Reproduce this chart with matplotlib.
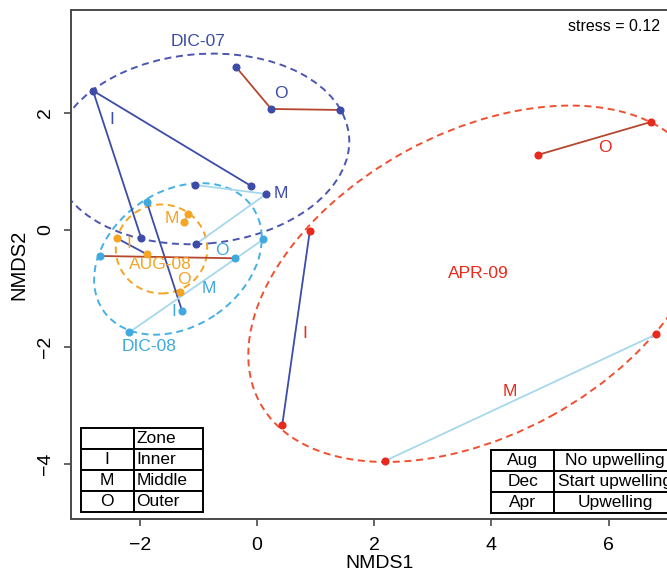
import matplotlib
matplotlib.use("Agg")
import matplotlib.pyplot as plt
from matplotlib.patches import Ellipse, Rectangle

plt.rcParams['font.family'] = ['Liberation Sans', 'DejaVu Sans']

# sample scores (NMDS1, NMDS2) per sampling and zone
dic07_I_x = [-0.10, -2.80, -1.976]
dic07_I_y = [0.745, 2.376, -0.147]
dic07_M_x = [-1.055, 0.157, -1.04]
dic07_M_y = [0.764, 0.61, -0.244]
dic07_O_x = [-0.355, 0.242, 1.408]
dic07_O_y = [2.776, 2.063, 2.046]

dic08_I_x = [-1.88, -1.28]
dic08_I_y = [0.468, -1.385]
dic08_M_x = [-2.18, 0.11]
dic08_M_y = [-1.754, -0.164]
dic08_O_x = [-2.676, -0.384]
dic08_O_y = [-0.45, -0.489]

aug08_I_x = [-2.39, -1.88]
aug08_I_y = [-0.147, -0.42]
aug08_M_x = [-1.18, -1.24]
aug08_M_y = [0.268, 0.126]
aug08_O_x = [-1.31]
aug08_O_y = [-1.07]

apr09_I_x = [0.90, 0.43]
apr09_I_y = [-0.03, -3.34]
apr09_M_x = [2.19, 6.81]
apr09_M_y = [-3.95, -1.79]
apr09_O_x = [4.80, 6.72]
apr09_O_y = [1.28, 1.84]

# ellipses: centre x, centre y, width, height, angle
ell_dic07 = [-0.95, 1.38, 5.06, 3.24, 5]
ell_dic08 = [-1.35, -0.50, 3.10, 2.30, 35]
ell_aug08 = [-1.63, -0.33, 1.56, 1.52, 0]
ell_apr09 = [3.775, -0.925, 8.49, 5.16, 28.7]

zone_codes = ['I', 'M', 'O']
zone_names = ['Inner', 'Middle', 'Outer']
month_codes = ['Aug', 'Dec', 'Apr']
month_desc = ['No upwelling', 'Start upwelling', 'Upwelling']

c_dic07 = '#3c4ca8'
c_dic08 = '#3fa9e0'
c_aug08 = '#f5a424'
c_apr09 = '#e8291c'
c_lineI = '#3c4ca8'
c_lineM = '#a6d8ec'
c_lineO = '#b5472f'

fig = plt.figure(figsize=(6.67, 5.76), dpi=100)
ax = fig.add_axes([0.106, 0.099, 0.925, 0.8837])
ax.set_xlim(-3.18, 7.35)
ax.set_ylim(-4.945, 3.755)

dash = (0, (3.6, 2.4))
for e, c in [(ell_dic07, '#4a56b0'), (ell_dic08, '#45b0e5'),
             (ell_aug08, c_aug08), (ell_apr09, '#f05030')]:
    ax.add_patch(Ellipse((e[0], e[1]), e[2], e[3], angle=e[4], fill=False,
                         edgecolor=c, lw=1.4, linestyle=dash))

groups = [
    (dic07_I_x, dic07_I_y, c_lineI, c_dic07),
    (dic07_M_x, dic07_M_y, c_lineM, c_dic07),
    (dic07_O_x, dic07_O_y, c_lineO, c_dic07),
    (dic08_I_x, dic08_I_y, c_lineI, c_dic08),
    (dic08_M_x, dic08_M_y, c_lineM, c_dic08),
    (dic08_O_x, dic08_O_y, c_lineO, c_dic08),
    (aug08_I_x, aug08_I_y, c_lineI, c_aug08),
    (aug08_M_x, aug08_M_y, c_lineM, c_aug08),
    (aug08_O_x, aug08_O_y, c_lineO, c_aug08),
    (apr09_I_x, apr09_I_y, c_lineI, c_apr09),
    (apr09_M_x, apr09_M_y, c_lineM, c_apr09),
    (apr09_O_x, apr09_O_y, c_lineO, c_apr09),
]
for gx, gy, lc, pc in groups:
    ax.plot(gx, gy, '-', color=lc, lw=1.3, zorder=3)
for gx, gy, lc, pc in groups:
    ax.plot(gx, gy, 'o', color=pc, ms=4.8, mec=pc, zorder=4)

fs = 12.5
# zone labels
ax.text(-2.48, 1.89, 'I', color=c_dic07, fontsize=fs, ha='center', va='center')
ax.text(0.40, 2.33, 'O', color=c_dic07, fontsize=fs, ha='center', va='center')
ax.text(0.40, 0.62, 'M', color=c_dic07, fontsize=fs, ha='center', va='center')
ax.text(-1.42, -1.40, 'I', color=c_dic08, fontsize=fs, ha='center', va='center')
ax.text(-0.60, -0.36, 'O', color=c_dic08, fontsize=fs, ha='center', va='center')
ax.text(-0.83, -1.01, 'M', color=c_dic08, fontsize=fs, ha='center', va='center')
ax.text(-1.45, 0.195, 'M', color=c_aug08, fontsize=fs, ha='center', va='center')
ax.text(-2.18, -0.23, 'I', color=c_aug08, fontsize=fs, ha='center', va='center')
ax.text(-1.25, -0.85, 'O', color=c_aug08, fontsize=fs, ha='center', va='center')
ax.text(5.94, 1.41, 'O', color=c_apr09, fontsize=fs, ha='center', va='center')
ax.text(0.81, -1.77, 'I', color=c_apr09, fontsize=fs, ha='center', va='center')
ax.text(4.32, -2.76, 'M', color=c_apr09, fontsize=fs, ha='center', va='center')
# sampling labels
ax.text(-1.0, 3.21, 'DIC-07', color=c_dic07, fontsize=fs, ha='center', va='center')
ax.text(-1.85, -2.0, 'DIC-08', color=c_dic08, fontsize=fs, ha='center', va='center')
ax.text(-1.65, -0.60, 'AUG-08', color=c_aug08, fontsize=fs, ha='center', va='center')
ax.text(3.78, -0.745, 'APR-09', color=c_apr09, fontsize=fs, ha='center', va='center')

ax.text(6.87, 3.48, 'stress = 0.12', fontsize=11.5, ha='right', va='center')

# legend tables
rh = 0.356
tx0, tx1, tx2, ty0 = -3.005, -2.107, -0.918, -4.82
rows = [('', 'Zone')] + list(zip(zone_codes, zone_names))
for i, (a, b) in enumerate(rows):
    yb = ty0 + (len(rows) - 1 - i) * rh
    ax.add_patch(Rectangle((tx0, yb), tx1 - tx0, rh, fc='white', ec='black', lw=1.4, zorder=5))
    ax.add_patch(Rectangle((tx1, yb), tx2 - tx1, rh, fc='white', ec='black', lw=1.4, zorder=5))
    ax.text((tx0 + tx1) / 2, yb + rh / 2, a, fontsize=12.5, ha='center', va='center', zorder=6)
    ax.text(tx1 + 0.05, yb + rh / 2, b, fontsize=12.5, ha='left', va='center', zorder=6)

ux0, ux1, ux2, uy0 = 4.0, 5.07, 7.15, -4.838
for i, (a, b) in enumerate(zip(month_codes, month_desc)):
    yb = uy0 + (len(month_codes) - 1 - i) * rh
    ax.add_patch(Rectangle((ux0, yb), ux1 - ux0, rh, fc='white', ec='black', lw=1.4, zorder=5))
    ax.add_patch(Rectangle((ux1, yb), ux2 - ux1, rh, fc='white', ec='black', lw=1.4, zorder=5))
    ax.text((ux0 + ux1) / 2, yb + rh / 2, a, fontsize=12.5, ha='center', va='center', zorder=6)
    ax.text((ux1 + ux2) / 2, yb + rh / 2, b, fontsize=12.5, ha='center', va='center', zorder=6)

ax.set_xticks([-2, 0, 2, 4, 6])
ax.set_yticks([-4, -2, 0, 2])
for s in ax.spines.values():
    s.set_color('#4a4a4a')
    s.set_linewidth(1.4)
ax.tick_params(direction='out', length=5, width=1.2, color='#4a4a4a', labelsize=14)
ax.tick_params(axis='x', pad=8)
ax.tick_params(axis='y', pad=7, labelrotation=90)
for lab in ax.get_yticklabels():
    lab.set_va('center')
ax.set_xlabel('NMDS1', fontsize=14, labelpad=1)
ax.set_ylabel('NMDS2', fontsize=14.5, labelpad=6)

plt.savefig('out.png', dpi=100)
